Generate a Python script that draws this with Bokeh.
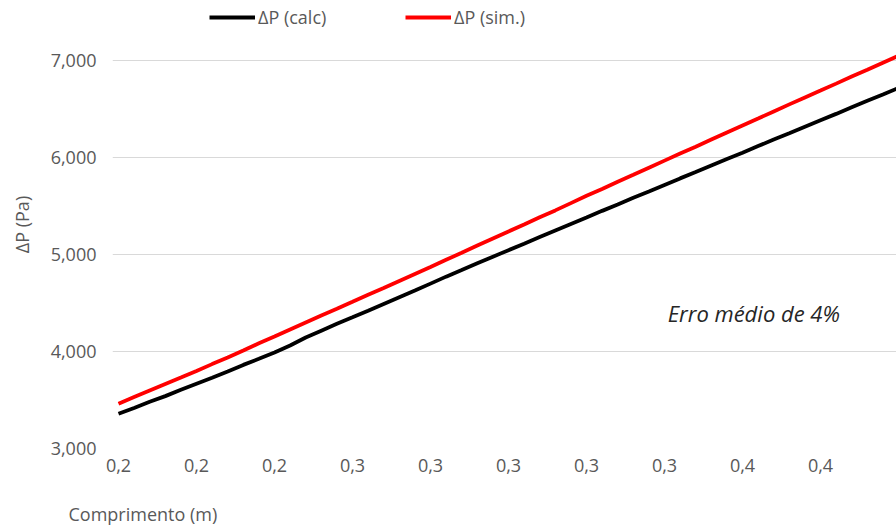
from bokeh.plotting import figure
from bokeh.models import Range1d, FixedTicker, Legend, LegendItem, Label, Title
from bokeh.embed import file_html
from bokeh.resources import INLINE

# data
idx = list(range(51))
dp_calc = [3358, 3418, 3482, 3540, 3605, 3668, 3730, 3795, 3862, 3925,
           3990, 4062, 4145, 4215, 4285, 4352, 4420, 4490, 4560, 4628,
           4700, 4772, 4840, 4910, 4978, 5045, 5112, 5180, 5248, 5315,
           5382, 5450, 5515, 5585, 5650, 5718, 5785, 5850, 5918, 5985,
           6050, 6118, 6185, 6250, 6318, 6385, 6450, 6518, 6585, 6650, 6718]
dp_sim = [3462, 3530, 3598, 3665, 3732, 3800, 3870, 3938, 4010, 4085,
          4155, 4228, 4300, 4372, 4440, 4512, 4585, 4655, 4728, 4800,
          4872, 4945, 5018, 5092, 5165, 5238, 5310, 5385, 5455, 5530,
          5605, 5675, 5750, 5822, 5895, 5968, 6041, 6112, 6185, 6258,
          6330, 6402, 6475, 6548, 6620, 6690, 6762, 6835, 6905, 6978, 7050]
x_tick_pos = [0, 5, 10, 15, 20, 25, 30, 35, 40, 45, 50]
x_tick_labels = ["0,2", "0,2", "0,2", "0,3", "0,3", "0,3", "0,3", "0,3", "0,4", "0,4", "0,4"]
y_ticks = [3000, 4000, 5000, 6000, 7000]
y_tick_labels = ["3,000", "4,000", "5,000", "6,000", "7,000"]

FONT = "Open Sans"
GRAY = "#595959"
FS = "18px"

p = figure(width=896, height=530, output_backend="svg", toolbar_location=None,
           x_range=Range1d(-0.385, 49.87), y_range=Range1d(3000, 7619),
           min_border_left=112, min_border_right=0, min_border_top=0, min_border_bottom=82)
p.outline_line_color = None

r1 = p.line(idx, dp_calc, line_color="black", line_width=3.8)
r2 = p.line(idx, dp_sim, line_color="#ff0000", line_width=3.8)

# axes
p.xaxis.ticker = FixedTicker(ticks=x_tick_pos)
p.xaxis.major_label_overrides = {t: l for t, l in zip(x_tick_pos, x_tick_labels)}
p.yaxis.ticker = FixedTicker(ticks=y_ticks)
p.yaxis.major_label_overrides = {t: l for t, l in zip(y_ticks, y_tick_labels)}
for ax in (p.xaxis, p.yaxis):
    ax.axis_line_color = None
    ax.major_tick_line_color = None
    ax.minor_tick_line_color = None
    ax.major_label_text_font = FONT
    ax.major_label_text_font_size = FS
    ax.major_label_text_color = GRAY
p.xaxis.major_label_standoff = 4
# invisible spacer label to push the (left-aligned) axis title down
p.xaxis.axis_label = " "
p.xaxis.axis_label_text_font_size = "1px"
p.xaxis.axis_label_standoff = 19
p.yaxis.major_label_standoff = 10
p.yaxis.axis_label = "ΔP (Pa)"
p.yaxis.axis_label_text_font = FONT
p.yaxis.axis_label_text_font_style = "normal"
p.yaxis.axis_label_text_font_size = FS
p.yaxis.axis_label_text_color = GRAY
p.yaxis.axis_label_standoff = 14

p.xgrid.grid_line_color = None
p.ygrid.ticker = FixedTicker(ticks=y_ticks)
p.ygrid.grid_line_color = "#d9d9d9"
p.ygrid.grid_line_width = 1

# x axis title (left aligned, like the source)
p.add_layout(Title(text="Comprimento (m)", align="left", offset=-44, standoff=4,
                   text_font=FONT, text_font_size=FS, text_font_style="normal",
                   text_color=GRAY), "below")

# annotation
p.add_layout(Label(x=35.2, y=4402, text="Erro médio de 4%", text_font=FONT,
                   text_font_size="22px", text_font_style="italic", text_color="#262626",
                   text_baseline="middle", text_align="left"))

# legends
for r, lab, xpos in ((r1, "ΔP (calc)", 97), (r2, "ΔP (sim.)", 293)):
    lg = Legend(items=[LegendItem(label=lab, renderers=[r])], location=(xpos, 419),
                orientation="horizontal", glyph_width=46, glyph_height=20, label_height=20,
                label_standoff=3, padding=0, margin=0, spacing=0,
                border_line_color=None, background_fill_alpha=0,
                label_text_font=FONT, label_text_font_size=FS, label_text_color=GRAY)
    p.add_layout(lg)

open("out.html", "w").write(file_html(p, INLINE))
